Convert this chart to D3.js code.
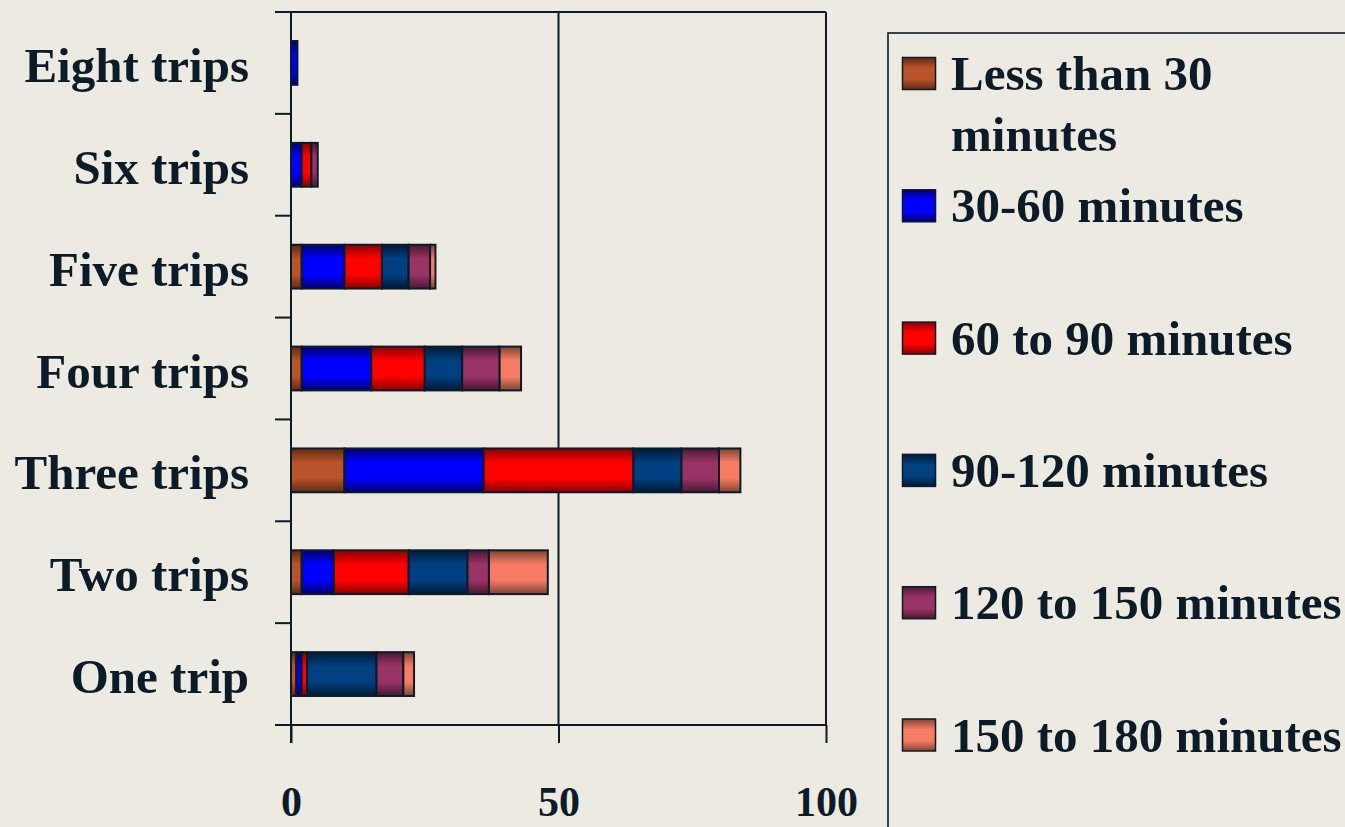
<!DOCTYPE html>
<html>
<head>
<meta charset="utf-8">
<script src="https://cdn.jsdelivr.net/npm/d3@7"></script>
<style>
  html, body { margin: 0; padding: 0; background: #EDEAE2; overflow: hidden; }
  svg { display: block; }
  text { font-family: "Liberation Serif", "Times New Roman", serif; font-weight: bold; fill: #0B1B28; }
</style>
</head>
<body>
<svg id="chart" width="1345" height="827"></svg>
<script>
// ---------- data ----------
const categories = ["Eight trips", "Six trips", "Five trips", "Four trips", "Three trips", "Two trips", "One trip"];
const seriesNames = ["Less than 30 minutes", "30-60 minutes", "60 to 90 minutes", "90-120 minutes", "120 to 150 minutes", "150 to 180 minutes"];
const lessThan30 = [0, 0, 2, 2, 10, 2, 1];
const min30to60 = [1.2, 2, 8, 13, 26, 6, 1];
const min60to90 = [0, 1.8, 7, 10, 28, 14, 1];
const min90to120 = [0, 0, 5, 7, 9, 11, 13];
const min120to150 = [0, 1.2, 4, 7, 7, 4, 5];
const min150to180 = [0, 0, 1, 4, 4, 11, 2];
const xTicks = [0, 50, 100];
const legendLines = [["Less than 30", "minutes"], ["30-60 minutes"], ["60 to 90 minutes"], ["90-120 minutes"], ["120 to 150 minutes"], ["150 to 180 minutes"]];

// ---------- styles ----------
const midColors = ["#B9532A", "#0000FF", "#FF0000", "#003F80", "#993366", "#F77C63"];
const edgeColors = ["#5E2A14", "#000070", "#8A0000", "#001A36", "#4A1830", "#7E4434"];
const ink = "#0B1B28";

const seriesValues = [lessThan30, min30to60, min60to90, min90to120, min120to150, min150to180];
const rows = categories.map((c, i) => {
  const r = { cat: c };
  seriesNames.forEach((s, j) => r[s] = seriesValues[j][i]);
  return r;
});
const stacked = d3.stack().keys(seriesNames)(rows);

const svg = d3.select("#chart");
const defs = svg.append("defs");
seriesNames.forEach((s, j) => {
  const g = defs.append("linearGradient").attr("id", "g" + j)
    .attr("x1", 0).attr("y1", 0).attr("x2", 0).attr("y2", 1);
  g.append("stop").attr("offset", "0%").attr("stop-color", edgeColors[j]);
  g.append("stop").attr("offset", "32%").attr("stop-color", midColors[j]);
  g.append("stop").attr("offset", "68%").attr("stop-color", midColors[j]);
  g.append("stop").attr("offset", "100%").attr("stop-color", edgeColors[j]);
});

const plotL = 291, plotR = 826, plotT = 12, plotB = 725;
const x = d3.scaleLinear().domain([0, 100]).range([plotL, plotR]);
const y = d3.scaleBand().domain(categories).range([plotT, plotB]).paddingInner(0.57).paddingOuter(0.285);

// gridline / right border
svg.append("g").selectAll("line").data([50, 100]).join("line")
  .attr("x1", d => x(d)).attr("x2", d => x(d)).attr("y1", plotT).attr("y2", plotB)
  .attr("stroke", ink).attr("stroke-width", 2);
// top border
svg.append("line").attr("x1", plotL).attr("x2", plotR).attr("y1", plotT).attr("y2", plotT)
  .attr("stroke", ink).attr("stroke-width", 2);

// bars
svg.append("g").selectAll("g").data(stacked).join("g")
  .attr("fill", (d, j) => `url(#g${j})`)
  .selectAll("rect").data(d => d.filter(p => p[1] - p[0] > 0)).join("rect")
  .attr("x", p => x(p[0])).attr("width", p => x(p[1]) - x(p[0]))
  .attr("y", p => y(p.data.cat)).attr("height", y.bandwidth())
  .attr("stroke", ink).attr("stroke-width", 2);

// y axis: line, ticks at band boundaries, labels
const step = y.step();
const boundaries = categories.map(c => y(c) - step * y.paddingInner() / 2).concat([plotB]);
const yAxis = svg.append("g");
yAxis.append("line").attr("x1", plotL).attr("x2", plotL).attr("y1", plotT).attr("y2", plotB + 18)
  .attr("stroke", ink).attr("stroke-width", 2);
yAxis.selectAll("line.tk").data(boundaries).join("line").attr("class", "tk")
  .attr("x1", plotL - 16).attr("x2", plotL).attr("y1", d => d).attr("y2", d => d)
  .attr("stroke", ink).attr("stroke-width", 2);
yAxis.selectAll("text").data(categories).join("text")
  .attr("x", 249).attr("y", d => y(d) + y.bandwidth() / 2 + 19)
  .attr("text-anchor", "end").attr("font-size", 49).text(d => d);

// x axis
const xAxis = svg.append("g").attr("transform", `translate(0,${plotB})`)
  .call(d3.axisBottom(x).tickValues(xTicks).tickSize(18).tickPadding(43).tickSizeOuter(0));
xAxis.select(".domain").attr("stroke", ink).attr("stroke-width", 2).attr("d", `M${plotL - 16},0H${plotR}`);
xAxis.selectAll(".tick line").attr("stroke", ink).attr("stroke-width", 2);
xAxis.selectAll(".tick text").attr("font-size", 42).attr("fill", ink)
  .attr("font-family", '"Liberation Serif", "Times New Roman", serif').attr("font-weight", "bold");

// legend
const lg = svg.append("g");
lg.append("rect").attr("x", 888).attr("y", 33).attr("width", 600).attr("height", 900)
  .attr("fill", "none").attr("stroke", ink).attr("stroke-width", 1.6);
const legBase = 90, legGap = 132.3;
seriesNames.forEach((s, j) => {
  const by = legBase + j * legGap;
  lg.append("rect").attr("x", 902.5).attr("y", by - 32.5).attr("width", 33).attr("height", 32)
    .attr("fill", `url(#g${j})`).attr("stroke", ink).attr("stroke-width", 1.5);
  const t = lg.append("text").attr("x", 951).attr("y", by).attr("font-size", 49);
  legendLines[j].forEach((ln, k) => {
    t.append("tspan").attr("x", 951).attr("dy", k === 0 ? 0 : 60.5).text(ln);
  });
});
</script>
</body>
</html>
